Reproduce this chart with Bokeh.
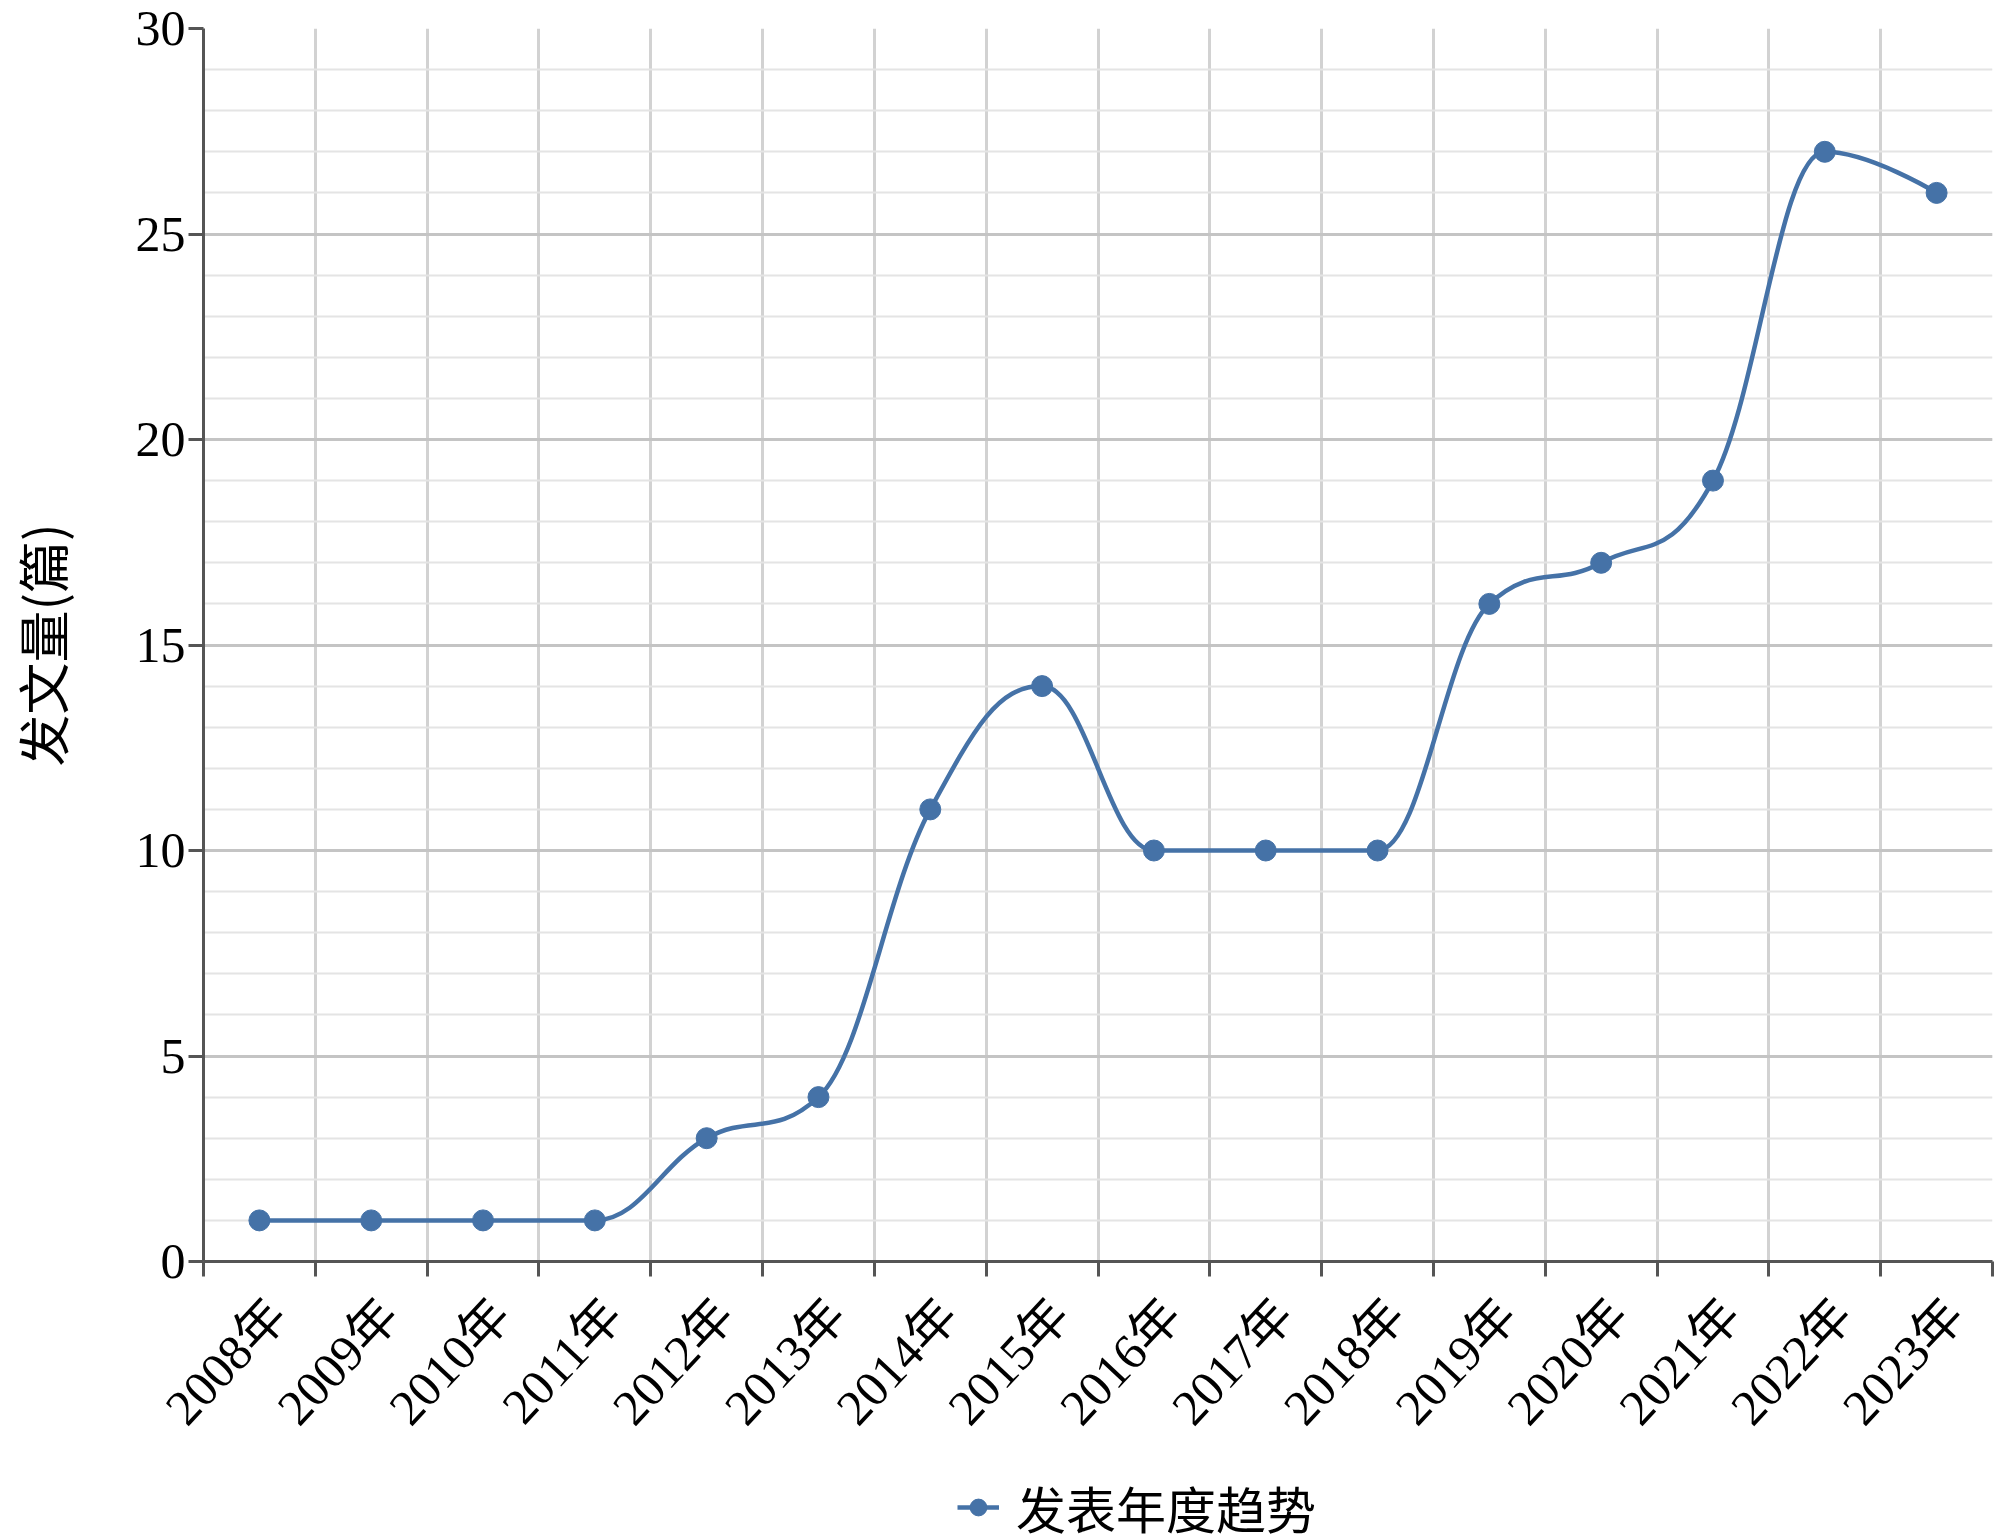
from bokeh.plotting import figure
from bokeh.models import FixedTicker, Range1d, Legend, LegendItem
from bokeh.embed import file_html
from bokeh.resources import INLINE

# ---- data ----
years = ["2008年", "2009年", "2010年", "2011年", "2012年", "2013年", "2014年", "2015年",
         "2016年", "2017年", "2018年", "2019年", "2020年", "2021年", "2022年", "2023年"]
counts = [1, 1, 1, 1, 3, 4, 11, 14, 10, 10, 10, 16, 17, 19, 27, 26]
y_ticks = [0, 5, 10, 15, 20, 25, 30]
y_label = "发文量(篇)"
series_name = "发表年度趋势"

COLOR = "#4572A7"
xs = list(range(len(years)))
LABEL_SHIFT = 0.16   # rotated labels hang from their baseline end, right of the category centre


def spline_segments(px, py, smoothing=1.5):
    """Highcharts-style spline control points (computed in data space)."""
    n = len(px)
    denom = smoothing + 1
    left = [None] * n
    right = [None] * n
    for i in range(1, n - 1):
        x, y = px[i], py[i]
        lx, ly = px[i - 1], py[i - 1]
        nx, ny = px[i + 1], py[i + 1]
        lcx = (smoothing * x + lx) / denom
        lcy = (smoothing * y + ly) / denom
        rcx = (smoothing * x + nx) / denom
        rcy = (smoothing * y + ny) / denom
        corr = 0.0
        if rcx != lcx:
            corr = (rcy - lcy) * (rcx - x) / (rcx - lcx) + y - rcy
        lcy += corr
        rcy += corr
        if lcy > ly and lcy > y:
            lcy = max(ly, y)
            rcy = 2 * y - lcy
        elif lcy < ly and lcy < y:
            lcy = min(ly, y)
            rcy = 2 * y - lcy
        if rcy > ny and rcy > y:
            rcy = max(ny, y)
            lcy = 2 * y - rcy
        elif rcy < ny and rcy < y:
            rcy = min(ny, y)
            lcy = 2 * y - rcy
        left[i] = (lcx, lcy)
        right[i] = (rcx, rcy)
    seg = dict(x0=[], y0=[], x1=[], y1=[], cx0=[], cy0=[], cx1=[], cy1=[])
    for i in range(1, n):
        c0 = right[i - 1] if right[i - 1] else (px[i - 1], py[i - 1])
        c1 = left[i] if left[i] else (px[i], py[i])
        seg["x0"].append(px[i - 1]); seg["y0"].append(py[i - 1])
        seg["x1"].append(px[i]); seg["y1"].append(py[i])
        seg["cx0"].append(c0[0]); seg["cy0"].append(c0[1])
        seg["cx1"].append(c1[0]); seg["cy1"].append(c1[1])
    return seg


p = figure(frame_width=1789, frame_height=1233,
           x_range=Range1d(-0.5, len(years) - 0.5), y_range=Range1d(0, 30),
           output_backend="svg", toolbar_location=None,
           min_border_left=195, min_border_right=6, min_border_top=28, min_border_bottom=0,
           background_fill_color="white", border_fill_color="white",
           outline_line_color=None)

# grids
p.xgrid.ticker = FixedTicker(ticks=[i - 0.5 for i in range(len(years) + 1)])
p.xgrid.grid_line_color = "#d2d2d2"
p.xgrid.grid_line_width = 3
p.ygrid.grid_line_color = "#c4c4c4"
p.ygrid.grid_line_width = 3
p.ygrid.minor_grid_line_color = "#e4e4e4"
p.ygrid.minor_grid_line_width = 2

# x axis
label_pos = [x + LABEL_SHIFT for x in xs]
xa = p.xaxis[0]
xa.ticker = FixedTicker(ticks=label_pos, minor_ticks=[i - 0.5 for i in range(len(years) + 1)])
xa.major_label_overrides = {pos: t for pos, t in zip(label_pos, years)}
xa.major_label_orientation = 0.82
xa.major_tick_line_color = None
xa.major_tick_out = 0
xa.major_tick_in = 0
xa.minor_tick_line_color = "#555555"
xa.minor_tick_line_width = 3
xa.minor_tick_out = 15
xa.minor_tick_in = 0
xa.axis_line_color = "#555555"
xa.axis_line_width = 3
xa.major_label_text_font = "Liberation Serif, Noto Sans CJK SC"
xa.major_label_text_font_size = "50px"
xa.major_label_text_color = "black"
xa.major_label_standoff = 30

# y axis
ya = p.yaxis[0]
ya.ticker = FixedTicker(ticks=y_ticks, minor_ticks=list(range(0, 31)))
ya.minor_tick_line_color = None
ya.major_tick_line_color = "#555555"
ya.major_tick_line_width = 3
ya.major_tick_out = 15
ya.major_tick_in = 0
ya.axis_line_color = "#555555"
ya.axis_line_width = 3
ya.major_label_text_font = "Liberation Serif"
ya.major_label_text_font_size = "50px"
ya.major_label_text_color = "black"
ya.major_label_standoff = 3
ya.axis_label = y_label
ya.axis_label_text_font = "Noto Sans CJK SC"
ya.axis_label_text_font_size = "52px"
ya.axis_label_text_font_style = "normal"
ya.axis_label_text_color = "black"
ya.axis_label_standoff = 54

# series
seg = spline_segments(xs, counts)
bez = p.bezier(x0="x0", y0="y0", x1="x1", y1="y1", cx0="cx0", cy0="cy0", cx1="cx1", cy1="cy1",
               source=seg, line_color=COLOR, line_width=4.5)
pts = p.scatter(xs, counts, size=21, marker="circle", fill_color=COLOR, line_color=COLOR)

# legend sits in the right side panel (whose vertical span equals the frame's),
# offset to the bottom centre of the chart; side-panel annotations are not clipped
legend = Legend(items=[LegendItem(label=series_name, renderers=[bez, pts])],
                location=(-1035, -282), orientation="horizontal",
                label_text_font="Noto Sans CJK SC", label_text_font_size="50px",
                label_text_color="black", glyph_width=42, glyph_height=50,
                label_standoff=17, border_line_color=None, background_fill_alpha=0,
                margin=0, padding=0)
p.add_layout(legend, "right")

open("out.html", "w").write(file_html(p, INLINE))
